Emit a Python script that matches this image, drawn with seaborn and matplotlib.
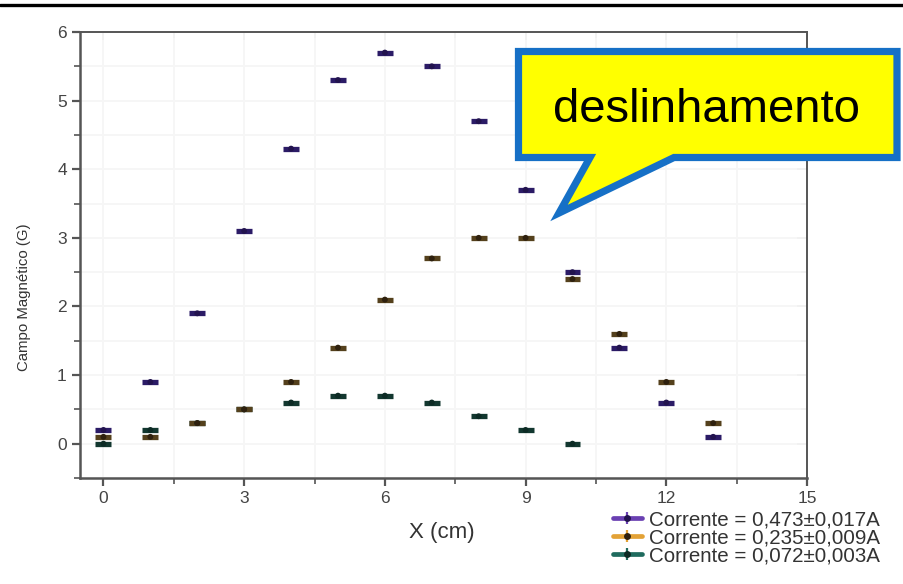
import numpy as np
import pandas as pd
import matplotlib
matplotlib.use("Agg")
import matplotlib.pyplot as plt
from matplotlib.patches import Polygon
from matplotlib.lines import Line2D
from matplotlib.ticker import MultipleLocator, NullFormatter
import seaborn as sns

# Measured field along the axis for three coil currents
x_cm = [0, 1, 2, 3, 4, 5, 6, 7, 8, 9, 10, 11, 12, 13]
campo_alta = [0.2, 0.9, 1.9, 3.1, 4.3, 5.3, 5.7, 5.5, 4.7, 3.7, 2.5, 1.4, 0.6, 0.1]
campo_media = [0.1, 0.1, 0.3, 0.5, 0.9, 1.4, 2.1, 2.7, 3.0, 3.0, 2.4, 1.6, 0.9, 0.3]
x_cm_baixa = [0, 1, 2, 3, 4, 5, 6, 7, 8, 9, 10]
campo_baixa = [0.0, 0.2, 0.3, 0.5, 0.6, 0.7, 0.7, 0.6, 0.4, 0.2, 0.0]

series_labels = ["Corrente = 0,473±0,017A",
                 "Corrente = 0,235±0,009A",
                 "Corrente = 0,072±0,003A"]
x_ticks = [0, 3, 6, 9, 12, 15]
y_ticks = [0, 1, 2, 3, 4, 5, 6]

# dark marks in the plot, brighter swatches in the legend
mark_colors = ["#2b1b66", "#54401c", "#12372f"]
legend_colors = ["#6a40b2", "#e3a236", "#1f6b5e"]
dot_colors = ["#22134e", "#2e200e", "#0c2a24"]

df = pd.concat([
    pd.DataFrame({"x": x_cm, "campo": campo_alta, "serie": series_labels[0]}),
    pd.DataFrame({"x": x_cm, "campo": campo_media, "serie": series_labels[1]}),
    pd.DataFrame({"x": x_cm_baixa, "campo": campo_baixa, "serie": series_labels[2]}),
], ignore_index=True)

sns.set_style("white")
plt.rcParams["font.family"] = ["Liberation Sans", "DejaVu Sans"]

W, H = 904, 584
fig = plt.figure(figsize=(W / 100, H / 100), dpi=100)
ax = fig.add_axes([80 / W, 1 - 478 / H, (807 - 80) / W, (478 - 32) / H])

ax.set_xlim(-0.5, 15)
ax.set_ylim(-0.5, 6)
ax.xaxis.set_major_locator(MultipleLocator(3))
ax.xaxis.set_minor_locator(MultipleLocator(1.5))
ax.yaxis.set_major_locator(MultipleLocator(1))
ax.yaxis.set_minor_locator(MultipleLocator(0.5))
ax.grid(True, which="both", color="#f6f6f6", linewidth=1.4, zorder=0)
ax.set_axisbelow(True)

# short horizontal bars for each reading, highest current drawn last
for i in [2, 1, 0]:
    sub = df[df["serie"] == series_labels[i]]
    ax.errorbar(sub["x"], sub["campo"], xerr=0.17, fmt="none",
                ecolor=mark_colors[i], elinewidth=3.8, capsize=0, zorder=3)

sns.scatterplot(data=df.iloc[::-1], x="x", y="campo", hue="serie",
                palette=dict(zip(series_labels, dot_colors)),
                marker="o", s=18, edgecolor="none", legend=False,
                ax=ax, zorder=4)

ax.set_xticks(x_ticks)
ax.set_yticks(y_ticks)
ax.set_xticklabels([str(v) for v in x_ticks])
ax.set_yticklabels([str(v) for v in y_ticks])

ax.set_xlabel("X (cm)", fontsize=16, color="#333333")
ax.xaxis.set_label_coords(0.498, -0.098)
ax.set_ylabel("Campo Magnético (G)", fontsize=10.8, color="#333333")
ax.yaxis.set_label_coords(-0.068, 0.406)
ax.tick_params(axis="both", which="both", labelsize=12.5, colors="#555555",
               labelcolor="#444444", direction="out",
               bottom=True, left=True, top=False, right=False)
ax.tick_params(which="major", length=6, width=1.6)
ax.tick_params(which="minor", length=4, width=1.2)

for name, sp in ax.spines.items():
    sp.set_color("#555555")
    sp.set_linewidth(1.8 if name in ("left", "bottom") else 1.4)

# mirrored top and right axes with inward ticks
top = ax.secondary_xaxis("top")
top.xaxis.set_major_locator(MultipleLocator(3))
top.xaxis.set_minor_locator(MultipleLocator(1.5))
top.xaxis.set_major_formatter(NullFormatter())
top.tick_params(which="both", direction="in", colors="#555555",
                top=True, bottom=False, labeltop=False)
top.tick_params(which="major", length=6, width=1.4)
top.tick_params(which="minor", length=4, width=1.1)
top.spines["top"].set_visible(False)

right = ax.secondary_yaxis("right")
right.yaxis.set_major_locator(MultipleLocator(1))
right.yaxis.set_minor_locator(MultipleLocator(0.5))
right.yaxis.set_major_formatter(NullFormatter())
right.tick_params(which="both", direction="in", colors="#555555",
                  right=True, left=False, labelright=False)
right.tick_params(which="major", length=7, width=1.4)
right.tick_params(which="minor", length=4, width=1.1)
right.spines["right"].set_visible(False)

# legend entries: horizontal bar with caps and dark centre dot
leg_handles = []
for i in range(3):
    bar = Line2D([0], [0], color=legend_colors[i], linewidth=3.4,
                 marker="|", markersize=9, markeredgewidth=1.6)
    dot = Line2D([0], [0], color="none", marker="o", markersize=5,
                 markerfacecolor=dot_colors[i], markeredgecolor="none")
    leg_handles.append((bar, dot))

leg = fig.legend(leg_handles, series_labels, loc="upper right",
                 bbox_to_anchor=(890 / W, 1 - 500 / H),
                 frameon=False, fontsize=14.8, handlelength=1.4,
                 handletextpad=0.35, labelspacing=-0.05, borderpad=0.0)
for t in leg.get_texts():
    t.set_color("#333333")

# thick rule across the top of the page
fig.add_artist(Line2D([0, 1], [1 - 5 / H, 1 - 5 / H], color="black",
                      linewidth=2.4, transform=fig.transFigure))

# speech-bubble callout
pts_px = [(518.5, 51.5), (897, 51.5), (897, 157.5), (674, 157.5),
          (559, 213), (590, 157.5), (518.5, 157.5)]
pts = [(px / W, 1 - py / H) for px, py in pts_px]
fig.add_artist(Polygon(pts, closed=True, facecolor="#ffff00",
                       edgecolor="#1670c6", linewidth=5.2,
                       joinstyle="miter", transform=fig.transFigure,
                       zorder=10))
fig.text(707 / W, 1 - 122 / H, "deslinhamento", fontsize=34,
         ha="center", va="baseline", color="black", zorder=11)

fig.savefig("out.png", dpi=100)
